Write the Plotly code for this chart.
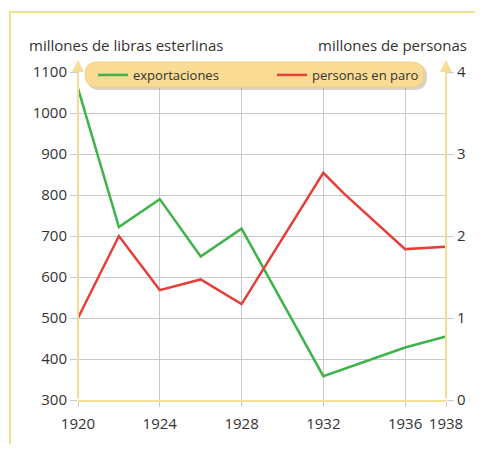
import plotly.graph_objects as go

# datos
anios_exp = [1920, 1922, 1924, 1926, 1928, 1932, 1936, 1938]
exportaciones = [1060, 722, 790, 650, 718, 358, 428, 455]

anios_paro = [1920, 1922, 1924, 1926, 1928, 1932, 1933, 1936, 1938]
paro = [1.0, 2.0, 1.34, 1.47, 1.17, 2.77, 2.52, 1.84, 1.87]

ticks_x = [1920, 1924, 1928, 1932, 1936, 1938]
ticks_izq = [300, 400, 500, 600, 700, 800, 900, 1000, 1100]
ticks_der = [0, 1, 2, 3, 4]

VERDE = '#3db34a'
ROJO = '#e63f3a'
AMARILLO = '#f6dd92'
GRIS = '#c9c9c9'
TEXTO = '#333333'
FUENTE = 'Open Sans'

# la pagina deja 8px de margen en el body: la figura se reduce para no desbordar
OFF = 8
W, H = 483 - 2 * OFF, 452 - 2 * OFF
L, T = 78 - OFF, 72 - OFF
R, B = W - (446 - OFF), H - (400 - OFF)
pw, ph = W - L - R, H - T - B


def px(x):
    return (x - OFF - L) / pw


def py(y):
    return (H - B - (y - OFF)) / ph


def caja(x0, y0, x1, y1, r):
    # rectangulo redondeado en coordenadas paper
    return (f"M{px(x0 + r)},{py(y0)} L{px(x1 - r)},{py(y0)} "
            f"Q{px(x1)},{py(y0)} {px(x1)},{py((y0 + y1) / 2)} "
            f"Q{px(x1)},{py(y1)} {px(x1 - r)},{py(y1)} "
            f"L{px(x0 + r)},{py(y1)} "
            f"Q{px(x0)},{py(y1)} {px(x0)},{py((y0 + y1) / 2)} "
            f"Q{px(x0)},{py(y0)} {px(x0 + r)},{py(y0)} Z")


fig = go.Figure()
fig.add_trace(go.Scatter(x=anios_exp, y=exportaciones, mode='lines',
                         line=dict(color=VERDE, width=2.5),
                         name='exportaciones'))
fig.add_trace(go.Scatter(x=anios_paro, y=paro, mode='lines', yaxis='y2',
                         line=dict(color=ROJO, width=2.5),
                         name='personas en paro'))

shapes = [
    # marco exterior (arriba e izquierda)
    dict(type='path', xref='paper', yref='paper',
         path=f"M{px(490)},{py(12)} L{px(10)},{py(12)} L{px(10)},{py(460)}",
         line=dict(color=AMARILLO, width=2), layer='below'),
    # sombra y caja de la leyenda
    dict(type='path', xref='paper', yref='paper', path=caja(87, 64, 427, 90, 13),
         fillcolor='rgba(150,130,90,0.35)', line=dict(width=0)),
    dict(type='path', xref='paper', yref='paper', path=caja(85, 62, 424, 87, 13),
         fillcolor='#f9db94', line=dict(color='#f3cf7e', width=1)),
]

annotations = [
    dict(text='millones de libras esterlinas', xref='paper', yref='paper',
         x=px(27), y=py(45), xanchor='left', yanchor='middle', showarrow=False,
         font=dict(size=15, color=TEXTO, family=FUENTE)),
    dict(text='millones de personas', xref='paper', yref='paper',
         x=px(469), y=py(45), xanchor='right', yanchor='middle', showarrow=False,
         font=dict(size=15, color=TEXTO, family=FUENTE)),
]
# ejes verticales amarillos con flecha
for xa in [0, 1]:
    annotations.append(dict(text='', xref='paper', yref='paper', x=xa, y=py(60),
                            ax=0, ay=400 - 60, showarrow=True, arrowhead=2,
                            arrowsize=1.2, arrowwidth=2, arrowcolor=AMARILLO))

fig.update_layout(
    width=W, height=H,
    margin=dict(l=L, r=R, t=T, b=B, autoexpand=False),
    paper_bgcolor='white', plot_bgcolor='white',
    font=dict(family=FUENTE, size=15, color=TEXTO),
    showlegend=True,
    legend=dict(orientation='h', x=px(93), y=py(75), xanchor='left', yanchor='middle',
                bgcolor='rgba(0,0,0,0)', entrywidth=134, entrywidthmode='pixels',
                font=dict(size=13, color=TEXTO, family=FUENTE),
                itemwidth=30),
    xaxis=dict(range=[1920, 1938], tickvals=ticks_x, showgrid=True, gridcolor=GRIS,
               gridwidth=1, showline=True, linecolor=AMARILLO, linewidth=2,
               ticks='outside', ticklen=5, tickcolor=GRIS, zeroline=False,
               ticklabelstandoff=4, automargin=False),
    yaxis=dict(range=[300, 1100], tickvals=ticks_izq, showgrid=True, gridcolor=GRIS,
               gridwidth=1, showline=False, ticks='outside', ticklen=7,
               tickcolor=GRIS, zeroline=False, automargin=False),
    yaxis2=dict(range=[0, 4], tickvals=ticks_der, overlaying='y', side='right',
                showgrid=False, showline=False, ticks='outside', ticklen=7,
                tickcolor=GRIS, zeroline=False, automargin=False),
    shapes=shapes,
    annotations=annotations,
)

fig.write_html("out.html")
